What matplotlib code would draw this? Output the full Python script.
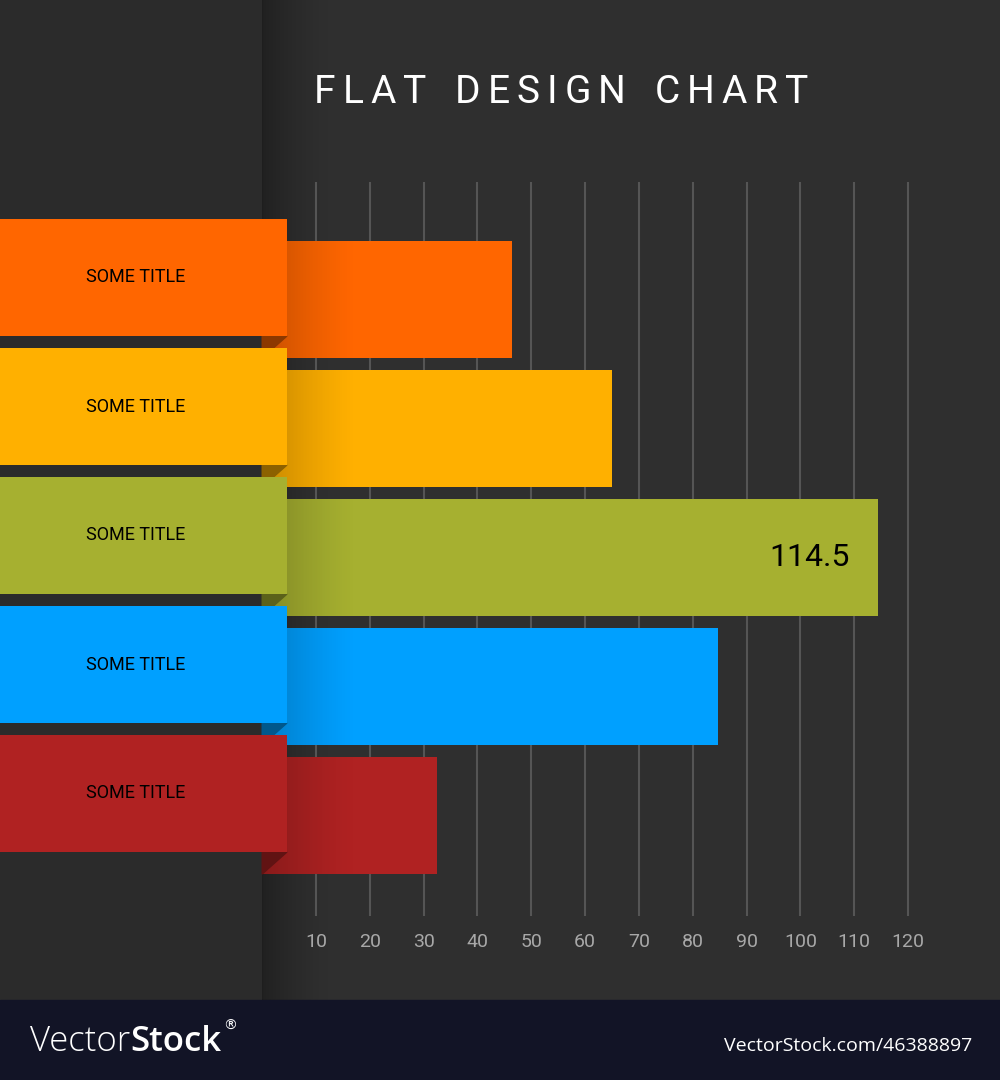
import numpy as np
import matplotlib
matplotlib.use("Agg")
import matplotlib.pyplot as plt
from matplotlib.patches import Rectangle, Polygon
from matplotlib.colors import to_rgb

# data
categories = ["SOME TITLE", "SOME TITLE", "SOME TITLE", "SOME TITLE", "SOME TITLE"]
values = [46.5, 65, 114.5, 84.7, 32.5]
colors = ["#ff6600", "#ffb000", "#a6b030", "#00a0ff", "#b02222"]
ticks = [10, 20, 30, 40, 50, 60, 70, 80, 90, 100, 110, 120]
tick_labels = [str(t) for t in ticks]
value_label_idx = 2
value_label = "114.5"
title = "FLAT DESIGN CHART"

fig = plt.figure(figsize=(10, 10.8), dpi=100)
fig.patch.set_facecolor("#2f2f2f")
renderer = fig.canvas.get_renderer()

# background / decoration axes in pixel coords
bg = fig.add_axes([0, 0, 1, 1], zorder=0)
bg.set_xlim(0, 1000)
bg.set_ylim(1080, 0)
bg.axis("off")
bg.add_patch(Rectangle((0, 0), 262, 1000, color="#2b2b2b", zorder=0))
bg.add_patch(Rectangle((0, 1000), 1000, 80, color="#121426", zorder=0))

# overlay axes for texts that sit above everything
top = fig.add_axes([0, 0, 1, 1], zorder=5)
top.set_xlim(0, 1000)
top.set_ylim(1080, 0)
top.axis("off")
top.patch.set_alpha(0)


def spaced_text(ax, text, cx, cy, track, word_gap, **kw):
    # lay out letters one by one with extra tracking, then centre the row
    items = []
    x = 0
    for ch in text:
        if ch == " ":
            x += word_gap
            continue
        t = ax.text(0, cy, ch, ha="left", va="baseline", **kw)
        w = t.get_window_extent(renderer).width
        items.append((t, x))
        x += w + track
    total = x - track
    for t, dx in items:
        t.set_x(cx - total / 2 + dx)


spaced_text(top, title, 561, 103, 7, 22, color="white", fontsize=28,
            family="Roboto", weight="normal")

t1 = top.text(30, 1042, "Vector", color="white", fontsize=25, family="Open Sans",
              weight="light", ha="left", va="center")
w1 = t1.get_window_extent(renderer).width
t2 = top.text(30 + w1, 1042, "Stock", color="white", fontsize=25, family="Open Sans",
              weight="semibold", ha="left", va="center")
w2 = t2.get_window_extent(renderer).width
top.text(30 + w1 + w2 + 2, 1026, "®", color="white", fontsize=10, family="DejaVu Sans",
         ha="left", va="center")
top.text(972, 1046, "VectorStock.com/46388897", color="white", fontsize=14,
         family="Open Sans", ha="right", va="center")

# main chart axes, 5.382 px per unit, zero at px 262.2
px = 5.382
pitch = 129.0
ax = fig.add_axes([0, 80 / 1080, 1, 1000 / 1080], zorder=1)
ax.patch.set_alpha(0)
ax.axis("off")

xmin = -262.2 / px
xmax = (1000 - 262.2) / px
ytop = -299.5 / pitch
ybot = (1000 - 299.5) / pitch

ypos = np.arange(len(values))
h = 117 / pitch
off = 22 / pitch
tab_right = (287 - 262.2) / px

# shadow of the left panel edge
shade = np.zeros((2, 256, 4))
shade[..., 3] = np.linspace(0.45, 0, 256) ** 1.5
ax.imshow(shade, extent=[0, 70 / px, ybot, ytop], aspect="auto", zorder=0.5,
          interpolation="bilinear")

# grid lines and tick labels
ax.vlines(ticks, (182 - 299.5) / pitch, (916 - 299.5) / pitch, color="#555555",
          lw=1.5, zorder=1)
for t, lab in zip(ticks, tick_labels):
    ax.text(t, (942 - 299.5) / pitch, lab, color="#a8a8a8", fontsize=14,
            family="Roboto", ha="center", va="center")

# bars
ax.barh(ypos, values, height=h, left=0, color=colors, zorder=2)
grad = np.zeros((2, 256, 4))
grad[..., 3] = np.linspace(0.32, 0, 256) ** 1.3
for y in ypos:
    ax.imshow(grad, extent=[0, 95 / px, y + h / 2, y - h / 2], aspect="auto",
              zorder=2.5, interpolation="bilinear")

# folded corner under each tab
for y, c in zip(ypos, colors):
    dark = tuple(v * 0.55 for v in to_rgb(c))
    ax.add_patch(Polygon([(0, y + h / 2 - off), (tab_right, y + h / 2 - off),
                          (0, y + h / 2)], closed=True, color=dark, zorder=3))

# label tabs
ax.barh(ypos - off, tab_right - xmin, height=h, left=xmin, color=colors, zorder=4)
for y, cat in zip(ypos, categories):
    ax.text((136 - 262.2) / px, y - off, cat, color="black", fontsize=13,
            family="Roboto", ha="center", va="center", zorder=5)

ax.text(values[value_label_idx] - 29 / px, ypos[value_label_idx], value_label,
        color="black", fontsize=23, family="Roboto",
        ha="right", va="center", zorder=5)

ax.set_xlim(xmin, xmax)
ax.set_ylim(ybot, ytop)

fig.savefig("out.png", dpi=100, facecolor=fig.get_facecolor())
